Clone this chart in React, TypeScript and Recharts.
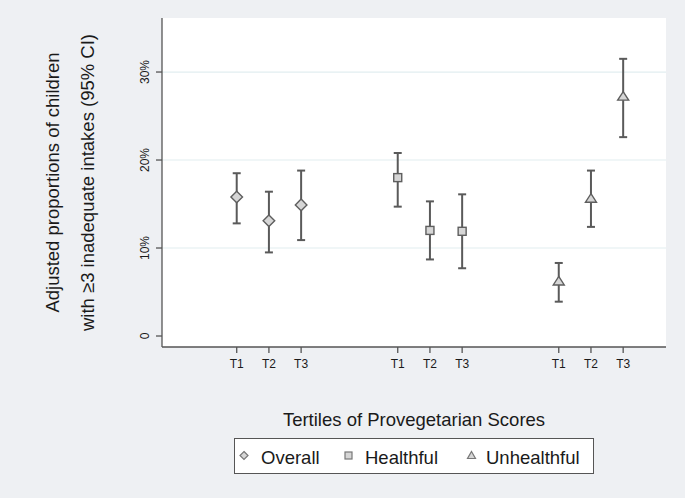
import React from 'react';
import { ComposedChart, Scatter, XAxis, YAxis, ErrorBar, ReferenceLine, CartesianGrid, Legend, Label } from 'recharts';

const categories = ['T1', 'T2', 'T3'];
const seriesNames = ['Overall', 'Healthful', 'Unhealthful'];

const overallPos = [1, 2, 3];
const healthfulPos = [6, 7, 8];
const unhealthfulPos = [11, 12, 13];

const overall = [15.8, 13.1, 14.9];
const overallLow = [12.8, 9.5, 10.9];
const overallHigh = [18.5, 16.4, 18.8];

const healthful = [18.0, 12.0, 11.9];
const healthfulLow = [14.7, 8.7, 7.7];
const healthfulHigh = [20.8, 15.3, 16.1];

const unhealthful = [6.2, 15.6, 27.2];
const unhealthfulLow = [3.9, 12.4, 22.6];
const unhealthfulHigh = [8.3, 18.8, 31.5];

const yTicks = [0, 10, 20, 30];
const gridValues = [10, 20, 30];
const xTicks = [...overallPos, ...healthfulPos, ...unhealthfulPos];
const xTickLabels = [...categories, ...categories, ...categories];

const build = (pos: number[], v: number[], lo: number[], hi: number[]) =>
  pos.map((x, i) => ({ x, y: v[i], err: [v[i] - lo[i], hi[i] - v[i]] }));

const overallData = build(overallPos, overall, overallLow, overallHigh);
const healthfulData = build(healthfulPos, healthful, healthfulLow, healthfulHigh);
const unhealthfulData = build(unhealthfulPos, unhealthful, unhealthfulLow, unhealthfulHigh);

const FONT = '"Liberation Sans", Arial, Helvetica, sans-serif';
const MFILL = '#d6d6d6';
const MSTROKE = '#5e5e5e';
const BG = '#eef0f3';

const Diamond = (p: any) => {
  const { cx, cy } = p;
  const r = 5.8;
  return <polygon points={`${cx},${cy - r} ${cx + r},${cy} ${cx},${cy + r} ${cx - r},${cy}`} fill={MFILL} stroke={MSTROKE} strokeWidth={1.4} />;
};
const Square = (p: any) => {
  const { cx, cy } = p;
  return <rect x={cx - 4} y={cy - 4} width={8} height={8} fill={MFILL} stroke={MSTROKE} strokeWidth={1.4} />;
};
const Triangle = (p: any) => {
  const { cx, cy } = p;
  return <polygon points={`${cx},${cy - 5} ${cx + 5.5},${cy + 3.5} ${cx - 5.5},${cy + 3.5}`} fill={MFILL} stroke={MSTROKE} strokeWidth={1.4} />;
};

const YTick = (p: any) => {
  const { y, payload } = p;
  const bx = 149.5;
  const label = payload.value === 0 ? '0' : `${payload.value}%`;
  return (
    <text x={bx} y={y} transform={`rotate(-90, ${bx}, ${y})`} textAnchor="middle" fontSize={12} fontFamily={FONT} fill="#1a1a1a">
      {label}
    </text>
  );
};

const YTitle = (p: any) => {
  const vb = p.viewBox || { x: 0, y: 18, width: 162, height: 329 };
  const cy = vb.y + vb.height / 2;
  return (
    <g fontFamily={FONT} fontSize={18.5} fill="#1a1a1a">
      <text x={58.5} y={cy} transform={`rotate(-90, 58.5, ${cy})`} textAnchor="middle">Adjusted proportions of children</text>
      <text x={93.5} y={cy} transform={`rotate(-90, 93.5, ${cy})`} textAnchor="middle">with ≥3 inadequate intakes (95% CI)</text>
    </g>
  );
};

const XTitle = (p: any) => {
  const vb = p.viewBox || { x: 162, y: 347, width: 504, height: 151 };
  const cx = vb.x + vb.width / 2;
  return (
    <text x={cx} y={vb.y + 78.7} textAnchor="middle" fontFamily={FONT} fontSize={18.5} fill="#1a1a1a">
      Tertiles of Provegetarian Scores
    </text>
  );
};

const LegendBox = () => {
  const sym = { fill: MFILL, stroke: '#777', strokeWidth: 1.2 };
  return (
    <svg width={360} height={36} style={{ display: 'block' }}>
      <rect x={0.5} y={0.5} width={359} height={35} fill="#fff" stroke="#555" strokeWidth={1} />
      <polygon points="10,13.5 14,17.5 10,21.5 6,17.5" {...sym} />
      <text x={27} y={26} fontFamily={FONT} fontSize={18.5} fill="#1a1a1a">{seriesNames[0]}</text>
      <rect x={111} y={14} width={7} height={7} {...sym} />
      <text x={131} y={26} fontFamily={FONT} fontSize={18.5} fill="#1a1a1a">{seriesNames[1]}</text>
      <polygon points="237.5,13.5 241.5,20.5 233.5,20.5" {...sym} />
      <text x={252} y={26} fontFamily={FONT} fontSize={18.5} fill="#1a1a1a">{seriesNames[2]}</text>
    </svg>
  );
};

export default function App() {
  return (
    <div style={{ position: 'absolute', left: 0, top: 0, width: 685, height: 498, background: BG }}>
      <ComposedChart width={685} height={498} margin={{ top: 18, right: 19, bottom: 0, left: 0 }}>
        <CartesianGrid horizontal={false} vertical={false} fill="#ffffff" />
        {gridValues.map((v) => (
          <ReferenceLine key={v} y={v} stroke="#e2eef0" strokeWidth={1.2} ifOverflow="extendDomain" />
        ))}
        <XAxis
          type="number"
          dataKey="x"
          domain={[-1.32, 14.33]}
          allowDataOverflow
          ticks={xTicks}
          interval={0}
          tickFormatter={(v: number) => xTickLabels[xTicks.indexOf(v)] ?? ''}
          height={151}
          tickSize={6}
          tickMargin={6}
          axisLine={{ stroke: '#555', strokeWidth: 1.3 }}
          tickLine={{ stroke: '#555', strokeWidth: 1.3 }}
          tick={{ fontSize: 12, fontFamily: FONT, fill: '#1a1a1a' }}
        >
          <Label content={<XTitle />} />
        </XAxis>
        <YAxis
          type="number"
          dataKey="y"
          domain={[-1.25, 36.14]}
          allowDataOverflow
          ticks={yTicks}
          interval={0}
          width={162}
          tickSize={6}
          axisLine={{ stroke: '#555', strokeWidth: 1.3 }}
          tickLine={{ stroke: '#555', strokeWidth: 1.3 }}
          tick={<YTick />}
        >
          <Label content={<YTitle />} />
        </YAxis>
        <Scatter name={seriesNames[0]} data={overallData} shape={<Diamond />} isAnimationActive={false}>
          <ErrorBar dataKey="err" direction="y" width={4} stroke="#5a5a5a" strokeWidth={2} />
        </Scatter>
        <Scatter name={seriesNames[1]} data={healthfulData} shape={<Square />} isAnimationActive={false}>
          <ErrorBar dataKey="err" direction="y" width={4} stroke="#5a5a5a" strokeWidth={2} />
        </Scatter>
        <Scatter name={seriesNames[2]} data={unhealthfulData} shape={<Triangle />} isAnimationActive={false}>
          <ErrorBar dataKey="err" direction="y" width={4} stroke="#5a5a5a" strokeWidth={2} />
        </Scatter>
        <Legend
          layout="horizontal"
          verticalAlign="middle"
          align="center"
          content={<LegendBox />}
          wrapperStyle={{ position: 'absolute', left: 234, top: 438, width: 360, height: 36 }}
        />
      </ComposedChart>
    </div>
  );
}
